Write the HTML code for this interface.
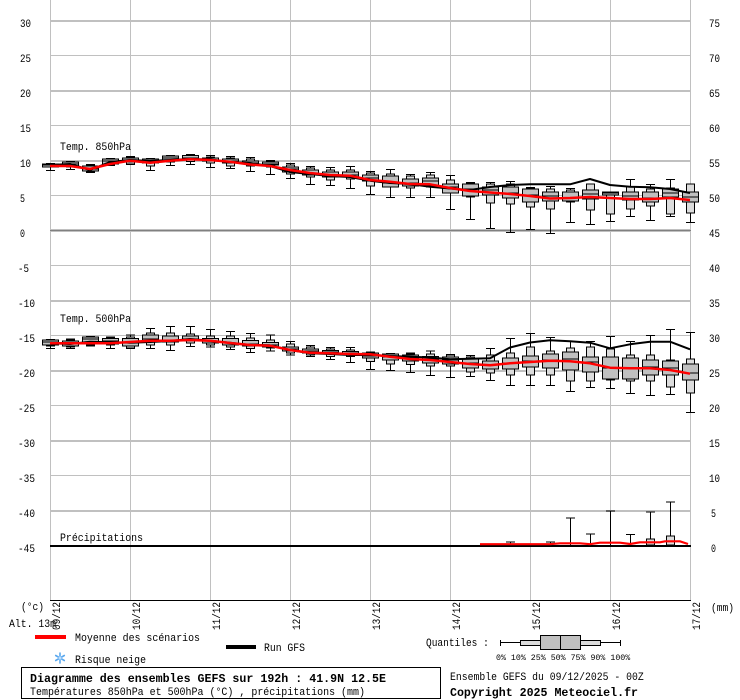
<!DOCTYPE html>
<html><head><meta charset="utf-8"><style>
html,body{margin:0;padding:0;background:#fff;}
svg{display:block;}
text{font-family:"Liberation Mono","DejaVu Sans Mono",monospace;fill:#000;}
</style></head><body>
<svg id="s" width="740" height="700" xmlns="http://www.w3.org/2000/svg"></svg>
<script>
var h='';
function R(x,y,w,hh,f){h+='<rect x="'+x+'" y="'+y+'" width="'+w+'" height="'+hh+'" fill="'+f+'" shape-rendering="crispEdges"/>';}
function T(x,y,s,fs,adv,extra){h+='<text x="'+x+'" y="'+y+'" font-size="'+fs+'" textLength="'+(s.length*adv-1)+'" lengthAdjust="spacingAndGlyphs" '+(extra||'')+'>'+s+'</text>';}
// vertical grid
for(var k=0;k<=8;k++){R(50+80*k,0,1,600,'#c0c0c0');}
// horizontal grid
for(var t=30;t>=-40;t-=5){var y=230-7*t;if(t===0)continue;R(50,y,641,(t%10===0)?2:1,'#c0c0c0');}
R(50,229,641,3,'#c0c0c0');R(50,230,641,1,'#808080');
// tick labels
for(var t=30;t>=-45;t-=5){var y=230-7*t+7;var s=''+t;T(t<0?18:20,y,s,11,6);T(t+45<10?711:709,y,''+(t+45),11,6);}
// boxes
function box(x,v){
 var mx=v[0],p90=v[1],p75=v[2],p50=v[3],p25=v[4],p10=v[5],mn=v[6];
 h+='<line x1="'+(x+0.5)+'" y1="'+mx+'" x2="'+(x+0.5)+'" y2="'+mn+'" stroke="#000" stroke-width="1" shape-rendering="crispEdges"/>';
 h+='<line x1="'+(x-4)+'" y1="'+(mx+0.5)+'" x2="'+(x+5)+'" y2="'+(mx+0.5)+'" stroke="#000" stroke-width="1" shape-rendering="crispEdges"/>';
 h+='<line x1="'+(x-4)+'" y1="'+(mn+0.5)+'" x2="'+(x+5)+'" y2="'+(mn+0.5)+'" stroke="#000" stroke-width="1" shape-rendering="crispEdges"/>';
 h+='<rect x="'+(x-3.5)+'" y="'+p90+'" width="8" height="'+Math.max(p10-p90,0.5)+'" fill="#dcdcdc" stroke="#000" stroke-width="1" shape-rendering="crispEdges"/>';
 h+='<rect x="'+(x-7.5)+'" y="'+p75+'" width="16" height="'+Math.max(p25-p75,0.5)+'" fill="#c0c0c0" stroke="#000" stroke-width="1" shape-rendering="crispEdges"/>';
 h+='<line x1="'+(x-7.5)+'" y1="'+p50+'" x2="'+(x+8.5)+'" y2="'+p50+'" stroke="#000" stroke-width="1" shape-rendering="crispEdges"/>';
}
var P850=[
[163,163.5,164,165,167,167,170],[161,161.5,162,164,166,167,169],[164,165,166,169,171,172,172],[158,158.5,159,161,164,164.5,165],
[156,157,158,160,162,164,164],[158,159,159,161,163,166,170],[155,156,156,158,160,162,165],[154,155,155.5,158,159,161.5,164],
[155,157,158,160,161,163,167],[156,158,159,161,163,166,168],[157,159,161,163,164,166,171],[160,161,162,164,165,167,174],
[163,165,167,169,172,174,178],[166,168,170,173,175,177,184],[167,170,172,175,177,180,185],[166,170,172,175,177,179,188],
[171,173,175,178,181,186,194],[169,174,176,183,187,187,197],[174,176,179,183,186,188,197],[172,175,178,181,186,187,197],
[175,180,184,187,193,193,209],[182,183,184,189,196,197,219],[182,184,187,190,195,203,228],[181,184,187,193,198,204,232],
[187,188,189,195,202,207,229],[186,189,192,196,201,209,233],[188,190,192,198,201,202,222],[184,184,190,194,199,210,224],
[192,192,192,193,195,214,221],[179,187,192,196,200,209,216],[184,189,192,198,202,206,220],[179,188,189,193,197,214,216],
[184,184,192,197,202,213,222]];
var P500=[
[339,339.5,340,342,345,346,348],[338.7,340,341,343,346,347,348],[336,336.5,337,339,343,345,345.5],[336.7,337.5,338.7,341,344,345,348],
[334.7,337,338.7,343,346,348,348],[328,333,335,339,341,345,348],[326,333,336,340,342,345,350],[326,334,336,339,341,343,346],
[329,336,338.7,341,343,345,346.7],[331,336,338.7,343,345,347,349],[333,338,340.7,344,346,348.7,352],[334.7,340,342.7,345,347,348,350.7],
[341,344,347,349,351,353,354.7],[345,347,349,351,353,355,356],[347,349,350.7,352,354,356.7,359],[347,350,351.7,353,355,356.7,362],
[351.7,352.5,353,356,358,361.7,369],[353,353.5,354,357,360,364,370],[352.7,354,355,358,361,364.7,372],[350.7,354,356.7,359,363,366,375],
[354,355,357,360,364,366,377],[355,357,359,363,368,372,376],[348,355,361,365,369,373,380],[338,353,358,363,369,375,385],
[333,347,356,361,367,375,385],[337,351,354,360,368,375,385],[341,348,352,359,370,381,391],[341,347,357,362,372,381,387],
[336,349,357,368,379,380,388],[341,355,358,368,379,381,393],[335,355,360,367,375,381,395],[329,360,361,368,375,387,394],
[332,359,364,373,380,393,412]];
for(var i=0;i<33;i++){box(50+20*i,P850[i]);box(50+20*i,P500[i]);}
// precipitation whiskers
var PW=[[23,541.7],[24,543.7],[25,541.7],[26,517.7],[27,533.3],[28,510.7],[29,534],[30,511.7],[31,501.7]];
PW.forEach(function(p){var x=50+20*p[0];
 h+='<line x1="'+(x+0.5)+'" y1="'+p[1]+'" x2="'+(x+0.5)+'" y2="545" stroke="#000" stroke-width="1" shape-rendering="crispEdges"/>';
 h+='<line x1="'+(x-4)+'" y1="'+(p[1]+0.5)+'" x2="'+(x+5)+'" y2="'+(p[1]+0.5)+'" stroke="#000" stroke-width="1" shape-rendering="crispEdges"/>';});
h+='<rect x="646.5" y="539" width="8" height="6" fill="#dcdcdc" stroke="#000" stroke-width="1" shape-rendering="crispEdges"/>';
h+='<rect x="666.5" y="536" width="8" height="9" fill="#dcdcdc" stroke="#000" stroke-width="1" shape-rendering="crispEdges"/>';
R(50,545,641,2,'#000');
R(50,600,641,1,'#000');
function pl(arr,col,w){var s='';for(var i=0;i<arr.length;i++){s+=(50+20*i)+','+arr[i]+' ';}h+='<polyline points="'+s+'" fill="none" stroke="'+col+'" stroke-width="'+w+'" stroke-linejoin="round"/>';}
var M850=[166,166,169,164,160.7,162.7,160.7,159.3,160,161.7,164.5,166,170,173,175,175.7,180,181.7,184,184.3,188,191,192.5,194,196,198.5,198,197,198,199,199,198,200];
var G850=[165,164,170,162,160,161,160,159,159.5,162,163,166,172,174,176,177,180.7,183,184,186.7,188.5,190,187,185,184.3,184.3,184.3,179,185,186.7,187.3,189,193];
var M500=[343.3,343.3,343.3,343.3,342,340.7,340.7,340,340.7,343,345,345.7,350,352.7,353.3,354,354.3,356.7,359,360,362,364,365.3,363.3,362,360.7,361.3,363.3,367.7,368.3,368.3,370,373.7];
var G500=[343.3,344,341.7,342.3,342.7,342,341,339,340.7,342.7,345,345.3,350,353.3,354,355,355,356,356.7,357.5,359.3,358.7,358.3,347.5,342.5,340.3,341.3,342.7,348.3,344.3,341.7,341.7,349.3];
pl(G850,'#000',2);pl(G500,'#000',2);
pl(M850,'#f00',2.5);pl(M500,'#f00',2.5);
h+='<polyline points="480,544.2 550,544.2 560,543.3 580,543.3 590,544.2 600,542.7 620,542.7 630,544 640,542.3 660,542.3 665,541.3 680,541.3 688,544" fill="none" stroke="#f00" stroke-width="2.2"/>';
// series labels
T(60,150,'Temp. 850hPa',11,6);
T(60,322,'Temp. 500hPa',11,6);
T(60,541,'Précipitations',11,6);
// date labels
var D=['09/12','10/12','11/12','12/12','13/12','14/12','15/12','16/12','17/12'];
for(var k=0;k<9;k++){var x=50+80*k+10;h+='<text transform="translate('+x+',630) rotate(-90)" font-size="11" textLength="28" lengthAdjust="spacingAndGlyphs">'+D[k]+'</text>';}
T(21,610,'(°c)',11,6);
T(711,611,'(mm)',11,6);
T(9,627,'Alt. 13m',11,6);
// legend
R(35,635,31,4,'#f00');
T(75,641,'Moyenne des scénarios',11,6);
R(226,645,30,4,'#000');
T(264,651,'Run GFS',11,6);
// snowflake
h+='<g stroke="#5aa8ee" stroke-width="1.6" stroke-linecap="round"><line x1="60" y1="653" x2="60" y2="663"/><line x1="55.7" y1="655.5" x2="64.3" y2="660.5"/><line x1="55.7" y1="660.5" x2="64.3" y2="655.5"/></g>';
h+='<circle cx="60" cy="658" r="1.5" fill="#bfe0ff"/>';
T(75,663,'Risque neige',11,6);
// quantile legend
T(426,646,'Quantiles :',11,5.8);
h+='<line x1="500" y1="642.5" x2="620" y2="642.5" stroke="#000" stroke-width="1" shape-rendering="crispEdges"/>';
R(500,640,1,6,'#000');R(620,640,1,6,'#000');
h+='<rect x="520.5" y="640.5" width="80" height="5" fill="#dcdcdc" stroke="#000" stroke-width="1" shape-rendering="crispEdges"/>';
h+='<rect x="540.5" y="635.5" width="40" height="14" fill="#c0c0c0" stroke="#000" stroke-width="1" shape-rendering="crispEdges"/>';
R(560,635,1,15,'#000');
T(496,660,'0%  10% 25% 50% 75% 90% 100%',8,4.83);
// title box
h+='<rect x="21.5" y="667.5" width="419" height="31" fill="none" stroke="#000" stroke-width="1" shape-rendering="crispEdges"/>';
T(30,682,'Diagramme des ensembles GEFS sur 192h : 41.9N 12.5E',12,7,'font-weight="bold"');
T(30,695,'Températures 850hPa et 500hPa (°C) , précipitations (mm)',11,6);
T(450,680,'Ensemble GEFS du 09/12/2025 - 00Z',11,5.9);
T(450,696,'Copyright 2025 Meteociel.fr',12,7,'font-weight="bold"');
document.getElementById('s').innerHTML=h;
</script>
</body></html>
